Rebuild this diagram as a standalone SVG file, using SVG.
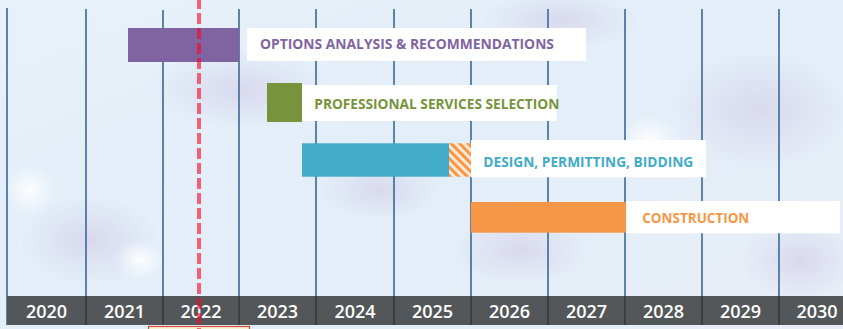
<svg xmlns="http://www.w3.org/2000/svg" width="843" height="329" viewBox="0 0 843 329">
<defs>
<linearGradient id="bg" x1="0" y1="0" x2="1" y2="1">
<stop offset="0" stop-color="#e6f1fa"/>
<stop offset="0.5" stop-color="#e3eef8"/>
<stop offset="1" stop-color="#e8eef7"/>
</linearGradient>
<radialGradient id="blob">
<stop offset="0" stop-color="#d6d4ec" stop-opacity="0.8"/>
<stop offset="1" stop-color="#d6d4ec" stop-opacity="0"/>
</radialGradient>
<radialGradient id="glow">
<stop offset="0" stop-color="#ffffff" stop-opacity="0.9"/>
<stop offset="1" stop-color="#ffffff" stop-opacity="0"/>
</radialGradient>
<pattern id="hatch" patternUnits="userSpaceOnUse" width="6" height="6" patternTransform="rotate(-45)">
<rect width="6" height="6" fill="#fbe9d6"/>
<rect width="3" height="6" fill="#f79646"/>
</pattern>
<style>
.grid{stroke:#3a6897;stroke-width:1.6}
.sep{stroke:#2c2f31;stroke-width:1.2}
.yr{font-family:"Open Sans","Liberation Sans",sans-serif;font-weight:600;font-size:18px;fill:#ffffff;text-anchor:middle}
.lbl{font-family:"Open Sans","Liberation Sans",sans-serif;font-weight:700;font-size:13.5px}
.box{fill:#ffffff}
</style>
</defs>
<g id="background">
<rect width="843" height="329" fill="url(#bg)"/>
<ellipse cx="90" cy="240" rx="70" ry="45" fill="url(#blob)"/>
<ellipse cx="240" cy="90" rx="90" ry="40" fill="url(#blob)"/>
<ellipse cx="560" cy="20" rx="80" ry="30" fill="url(#blob)"/>
<ellipse cx="760" cy="110" rx="90" ry="60" fill="url(#blob)"/>
<ellipse cx="800" cy="260" rx="60" ry="40" fill="url(#blob)"/>
<ellipse cx="520" cy="250" rx="70" ry="35" fill="url(#blob)"/>
<ellipse cx="380" cy="190" rx="60" ry="30" fill="url(#blob)"/>
<ellipse cx="140" cy="260" rx="25" ry="20" fill="url(#glow)"/>
<ellipse cx="30" cy="190" rx="25" ry="25" fill="url(#glow)"/>
<ellipse cx="650" cy="140" rx="30" ry="25" fill="url(#glow)"/>
</g>
<g id="grid">
<line class="grid" x1="7" y1="8" x2="7" y2="325"/>
<line class="grid" x1="86" y1="9" x2="86" y2="296"/>
<line class="grid" x1="163" y1="10" x2="163" y2="296"/>
<line class="grid" x1="239" y1="9" x2="239" y2="296"/>
<line class="grid" x1="316" y1="9" x2="316" y2="296"/>
<line class="grid" x1="394" y1="9" x2="394" y2="296"/>
<line class="grid" x1="471" y1="9" x2="471" y2="296"/>
<line class="grid" x1="548" y1="9" x2="548" y2="296"/>
<line class="grid" x1="625" y1="9" x2="625" y2="296"/>
<line class="grid" x1="702" y1="9" x2="702" y2="296"/>
<line class="grid" x1="779" y1="9" x2="779" y2="296"/>
</g>
<g id="axis">
<rect x="7" y="296" width="836" height="29" fill="#53575a"/>
<line class="sep" x1="86" y1="296" x2="86" y2="325"/>
<line class="sep" x1="163" y1="296" x2="163" y2="325"/>
<line class="sep" x1="239" y1="296" x2="239" y2="325"/>
<line class="sep" x1="316" y1="296" x2="316" y2="325"/>
<line class="sep" x1="394" y1="296" x2="394" y2="325"/>
<line class="sep" x1="471" y1="296" x2="471" y2="325"/>
<line class="sep" x1="548" y1="296" x2="548" y2="325"/>
<line class="sep" x1="625" y1="296" x2="625" y2="325"/>
<line class="sep" x1="702" y1="296" x2="702" y2="325"/>
<line class="sep" x1="779" y1="296" x2="779" y2="325"/>
<text class="yr" x="46.5" y="318">2020</text>
<text class="yr" x="124.5" y="318">2021</text>
<text class="yr" x="201" y="318">2022</text>
<text class="yr" x="277.5" y="318">2023</text>
<text class="yr" x="355" y="318">2024</text>
<text class="yr" x="432.5" y="318">2025</text>
<text class="yr" x="509.5" y="318">2026</text>
<text class="yr" x="586.5" y="318">2027</text>
<text class="yr" x="663.5" y="318">2028</text>
<text class="yr" x="740.5" y="318">2029</text>
<text class="yr" x="817" y="318">2030</text>
<rect x="148.5" y="326.5" width="101" height="6" fill="#f3f3d2" stroke="#d9463e" stroke-width="1.2"/>
</g>
<g id="options-analysis">
<rect x="128" y="28" width="111" height="34" fill="#8064a2"/>
<rect class="box" x="247" y="28" width="339" height="33"/>
<text class="lbl" x="260" y="49.3" fill="#8064a2" textLength="294" lengthAdjust="spacingAndGlyphs">OPTIONS ANALYSIS &amp; RECOMMENDATIONS</text>
</g>
<g id="professional-services">
<rect x="267" y="83" width="35" height="39" fill="#77933c"/>
<rect class="box" x="302" y="85" width="255" height="36"/>
<text class="lbl" x="314.3" y="109.3" fill="#77933c" textLength="245" lengthAdjust="spacingAndGlyphs">PROFESSIONAL SERVICES SELECTION</text>
</g>
<g id="design-permitting">
<rect x="302" y="143.3" width="147" height="33.4" fill="#41abc8"/>
<rect x="449" y="143.3" width="22" height="33.4" fill="url(#hatch)"/>
<rect class="box" x="471" y="140" width="235" height="37.3"/>
<text class="lbl" x="483.3" y="166.7" fill="#41abc8" textLength="210" lengthAdjust="spacingAndGlyphs">DESIGN, PERMITTING, BIDDING</text>
</g>
<g id="construction">
<rect x="471" y="202" width="155" height="30.7" fill="#f79646"/>
<rect class="box" x="626.5" y="201" width="213.5" height="32.3"/>
<text class="lbl" x="642.3" y="222.7" fill="#f79646" textLength="107" lengthAdjust="spacingAndGlyphs">CONSTRUCTION</text>
</g>
<g id="connectors">
<line id="today" x1="199" y1="-2" x2="199" y2="329" stroke="#ff0022" stroke-opacity="0.6" stroke-width="4" stroke-dasharray="11 4"/>
</g>
</svg>
